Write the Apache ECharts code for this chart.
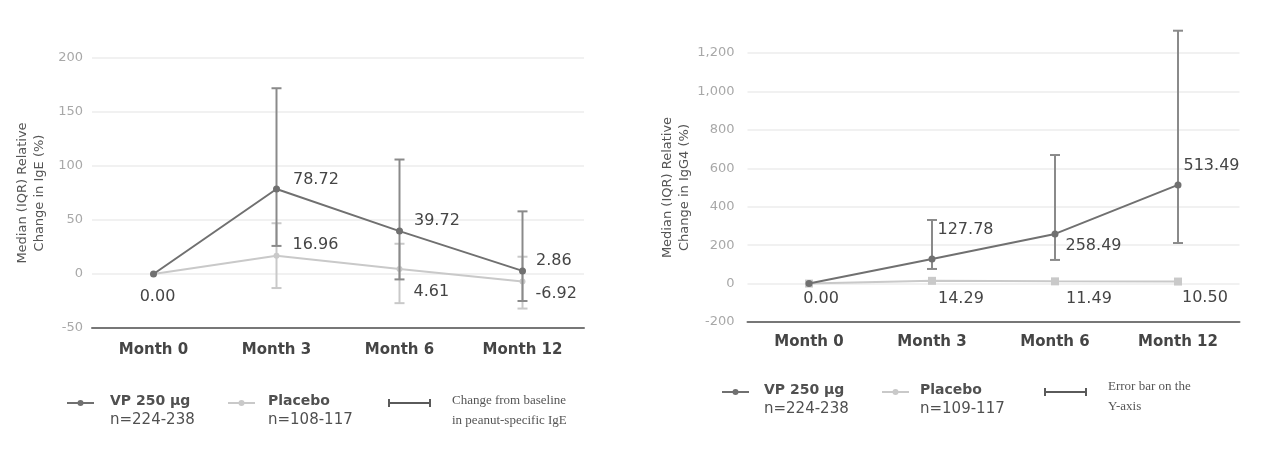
<!DOCTYPE html>
<html>
<head>
<meta charset="utf-8">
<script src="https://cdn.jsdelivr.net/npm/echarts@6/dist/echarts.min.js"></script>
<style>
  html, body { margin: 0; padding: 0; background: #fff; }
  #chart { width: 1284px; height: 465px; }
</style>
</head>
<body>
<div id="chart"></div>
<script>
// Time points
const months = ['Month 0', 'Month 3', 'Month 6', 'Month 12'];

// Median relative change in peanut-specific IgE (%)
const igeVp = [0, 78.72, 39.72, 2.86];
const igePlacebo = [0, 16.96, 4.61, -6.92];
// IQR bounds (IgE)
const igeVpLow = [null, 26, -5, -25];
const igeVpHigh = [null, 172, 106, 58];
const igePlaceboLow = [null, -13, -27, -32];
const igePlaceboHigh = [null, 47, 28, 16];

// Median relative change in IgG4 (%)
const igg4Vp = [0, 127.78, 258.49, 513.49];
const igg4Placebo = [0, 14.29, 11.49, 10.50];
// IQR bounds (IgG4)
const igg4VpLow = [null, 76, 123, 211];
const igg4VpHigh = [null, 331, 669, 1316];

// Label placement for each point: [position, [dx, dy]]
const igeVpLabelPos = [['bottom', [4, 6]], ['right', [8, -9]], ['right', [6, -10]], ['right', [5, -10]]];
const igePlLabelPos = [null, ['right', [8, -11]], ['right', [6, 23]], ['right', [5, 12]]];
const igg4VpLabelPos = [['bottom', [12, -1]], ['right', [-3, -29]], ['right', [2, 12]], ['right', [-3, -19]]];
const igg4PlLabelPos = [null, ['right', [-3, 18]], ['right', [2, 17]], ['right', [-5, 16]]];

const DARK = '#707070';
const LIGHT = '#c9c9c9';
const TEXT = '#454545';
const FONT = 'DejaVu Sans';

function withLabels(values, positions) {
  return values.map((v, i) => {
    const p = positions[i];
    if (!p) return { value: v, label: { show: false } };
    return {
      value: v,
      label: {
        show: true,
        position: p[0],
        distance: 5,
        offset: p[1],
        formatter: (d) => Number(d.value).toFixed(2),
        color: TEXT,
        fontSize: 16,
        fontFamily: FONT
      }
    };
  });
}

function errorData(low, high) {
  const out = [];
  low.forEach((l, i) => {
    if (l !== null && high[i] !== null) out.push([i, l, high[i]]);
  });
  return out;
}

function errorSeries(low, high, color, xi, z) {
  return {
    type: 'custom',
    xAxisIndex: xi,
    yAxisIndex: xi,
    z: z,
    silent: true,
    data: errorData(low, high),
    renderItem: function (params, api) {
      const idx = api.value(0);
      const lo = api.coord([idx, api.value(1)]);
      const hi = api.coord([idx, api.value(2)]);
      const half = 5;
      const style = { stroke: color, lineWidth: 2 };
      return {
        type: 'group',
        children: [
          { type: 'line', shape: { x1: lo[0], y1: lo[1], x2: hi[0], y2: hi[1] }, style },
          { type: 'line', shape: { x1: lo[0] - half, y1: lo[1], x2: lo[0] + half, y2: lo[1] }, style },
          { type: 'line', shape: { x1: hi[0] - half, y1: hi[1], x2: hi[0] + half, y2: hi[1] }, style }
        ]
      };
    }
  };
}

function lineSeries(values, positions, color, xi, symbol, size, z) {
  return {
    type: 'line',
    xAxisIndex: xi,
    yAxisIndex: xi,
    z: z,
    data: withLabels(values, positions),
    symbol: symbol,
    symbolSize: size,
    showAllSymbol: true,
    lineStyle: { color: color, width: 2 },
    itemStyle: { color: color },
    emphasis: { disabled: true }
  };
}

function legendGroup(y, items) {
  const children = [];
  items.forEach((it) => {
    if (it.kind === 'line') {
      children.push({ type: 'line', shape: { x1: it.x, y1: y, x2: it.x + 27, y2: y }, style: { stroke: it.color, lineWidth: 2 } });
      children.push({ type: 'circle', shape: { cx: it.x + 13.5, cy: y, r: 3 }, style: { fill: it.color } });
      children.push({ type: 'text', x: it.tx, y: y - 2, style: { text: it.title, font: 'bold 14px "' + FONT + '"', fill: '#505050', verticalAlign: 'middle' } });
      children.push({ type: 'text', x: it.tx, y: y + 17, style: { text: it.sub, font: '15px "' + FONT + '"', fill: '#505050', verticalAlign: 'middle' } });
    } else {
      const st = { stroke: '#5a5a5a', lineWidth: 2 };
      children.push({ type: 'line', shape: { x1: it.x, y1: y, x2: it.x + 41, y2: y }, style: st });
      children.push({ type: 'line', shape: { x1: it.x, y1: y - 4, x2: it.x, y2: y + 4 }, style: st });
      children.push({ type: 'line', shape: { x1: it.x + 41, y1: y - 4, x2: it.x + 41, y2: y + 4 }, style: st });
      children.push({ type: 'text', x: it.tx, y: y - 2 + it.dy, style: { text: it.l1, font: '13px "Liberation Serif"', fill: '#555', verticalAlign: 'middle' } });
      children.push({ type: 'text', x: it.tx, y: y + 18 + it.dy, style: { text: it.l2, font: '13px "Liberation Serif"', fill: '#555', verticalAlign: 'middle' } });
    }
  });
  return { type: 'group', children };
}

function xAxisCfg(gi, margin) {
  return {
    type: 'category',
    gridIndex: gi,
    data: months,
    boundaryGap: true,
    axisLine: { show: true, onZero: false, lineStyle: { color: '#777', width: 2 } },
    axisTick: { show: false },
    axisLabel: { color: TEXT, fontWeight: 'bold', fontSize: 15, fontFamily: FONT, margin: margin },
    splitLine: { show: false }
  };
}

function yAxisCfg(gi, min, max, interval, name, gap, margin, fmt) {
  return {
    type: 'value',
    gridIndex: gi,
    min, max, interval,
    name: name,
    nameLocation: 'middle',
    nameRotate: 90,
    nameGap: gap,
    nameTextStyle: { color: '#555', fontSize: 13, fontFamily: FONT, lineHeight: 17 },
    axisLine: { show: false },
    axisTick: { show: false },
    axisLabel: { color: '#a8a8a8', fontSize: 13, fontFamily: FONT, margin: margin, formatter: fmt },
    splitLine: { lineStyle: { color: '#ececec', width: 1.5 } }
  };
}

const chart = echarts.init(document.getElementById('chart'), null, { renderer: 'canvas' });

chart.setOption({
  backgroundColor: '#fff',
  animation: false,
  grid: [
    { left: 92, top: 58, width: 492, height: 270 },
    { left: 747.5, top: 53, width: 492, height: 269 }
  ],
  xAxis: [xAxisCfg(0, 15), xAxisCfg(1, 13)],
  yAxis: [
    yAxisCfg(0, -50, 200, 50, 'Median (IQR) Relative\nChange in IgE (%)', 44, 9, (v) => String(v)),
    yAxisCfg(1, -200, 1200, 200, 'Median (IQR) Relative\nChange in IgG4 (%)', 49, 13, (v) => v.toLocaleString('en-US'))
  ],
  series: [
    errorSeries(igePlaceboLow, igePlaceboHigh, LIGHT, 0, 2),
    lineSeries(igePlacebo, igePlLabelPos, LIGHT, 0, 'circle', 6, 3),
    errorSeries(igeVpLow, igeVpHigh, '#8a8a8a', 0, 4),
    lineSeries(igeVp, igeVpLabelPos, DARK, 0, 'circle', 7, 5),

    lineSeries(igg4Placebo, igg4PlLabelPos, LIGHT, 1, 'rect', 8, 3),
    errorSeries(igg4VpLow, igg4VpHigh, '#8a8a8a', 1, 4),
    lineSeries(igg4Vp, igg4VpLabelPos, DARK, 1, 'circle', 7, 5)
  ],
  graphic: [
    legendGroup(403, [
      { kind: 'line', x: 67, tx: 110, color: DARK, title: 'VP 250 µg', sub: 'n=224-238' },
      { kind: 'line', x: 228, tx: 268, color: LIGHT, title: 'Placebo', sub: 'n=108-117' },
      { kind: 'bar', x: 389, tx: 452, dy: 0, l1: 'Change from baseline', l2: 'in peanut-specific IgE' }
    ]),
    legendGroup(392, [
      { kind: 'line', x: 722, tx: 764, color: DARK, title: 'VP 250 µg', sub: 'n=224-238' },
      { kind: 'line', x: 882, tx: 920, color: LIGHT, title: 'Placebo', sub: 'n=109-117' },
      { kind: 'bar', x: 1045, tx: 1108, dy: -3, l1: 'Error bar on the', l2: 'Y-axis' }
    ])
  ]
});
</script>
</body>
</html>
